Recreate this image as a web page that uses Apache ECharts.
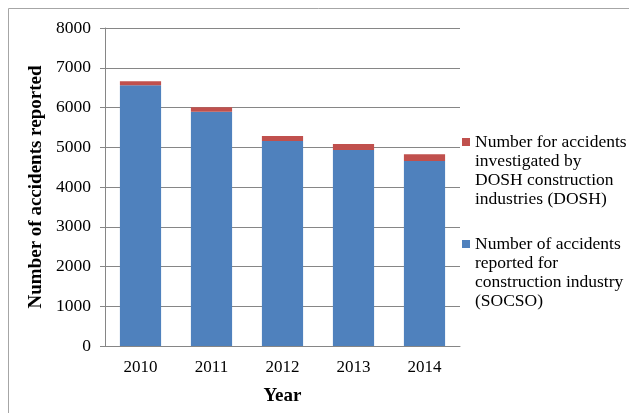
<!DOCTYPE html>
<html>
<head>
<meta charset="utf-8">
<script src="https://cdn.jsdelivr.net/npm/echarts@6/dist/echarts.min.js"></script>
<style>html,body{margin:0;padding:0;background:#fff}#c{width:629px;height:413px}</style>
</head>
<body>
<div id="c"></div>
<script>
const years = ['2010', '2011', '2012', '2013', '2014'];
const socso = [6560, 5890, 5160, 4930, 4655];
const dosh = [100, 115, 125, 150, 170];
const socsoName = 'Number of accidents\nreported for\nconstruction industry\n(SOCSO)';
const doshName = 'Number for accidents\ninvestigated by\nDOSH construction\nindustries (DOSH)';
const yTicks = { min: 0, max: 8000, interval: 1000 };

const font = 'Liberation Serif';
const chart = echarts.init(document.getElementById('c'));
// legend marker sits beside the first line of the 4-line label
const legendIcon = 'path://M0,0L8,0M0,5h8v8h-8zM0,76L8,76';
chart.setOption({
  animation: false,
  grid: { left: 105, right: 169, top: 28, bottom: 67 },
  graphic: [
    { type: 'line', shape: { x1: 8.5, y1: 8.5, x2: 8.5, y2: 413 }, style: { stroke: '#a6a6a6', lineWidth: 1 } },
    { type: 'line', shape: { x1: 8.5, y1: 8.5, x2: 629, y2: 8.5 }, style: { stroke: '#a6a6a6', lineWidth: 1 } }
  ],
  legend: {
    data: [doshName, socsoName], orient: 'vertical', left: 462, top: 133, padding: 0,
    itemWidth: 8, itemHeight: 76, itemGap: 26, icon: legendIcon,
    textStyle: { fontFamily: font, fontSize: 17.5, lineHeight: 19, color: '#000' }
  },
  xAxis: {
    type: 'category', data: years,
    name: 'Year', nameLocation: 'middle', nameGap: 41,
    nameTextStyle: { fontFamily: font, fontSize: 19, fontWeight: 'bold', color: '#000' },
    axisLine: { lineStyle: { color: '#868686' } },
    axisTick: { show: false },
    axisLabel: { fontFamily: font, fontSize: 17, color: '#000', margin: 13 }
  },
  yAxis: {
    type: 'value', min: yTicks.min, max: yTicks.max, interval: yTicks.interval,
    name: 'Number of accidents reported', nameLocation: 'middle', nameGap: 45,
    nameTextStyle: { fontFamily: font, fontSize: 19, fontWeight: 'bold', color: '#000' },
    axisLine: { show: true, lineStyle: { color: '#868686' } },
    axisTick: { show: true, length: 5, lineStyle: { color: '#868686' } },
    splitLine: { lineStyle: { color: '#868686' } },
    axisLabel: { fontFamily: font, fontSize: 17.5, color: '#000', margin: 14, formatter: v => String(v) }
  },
  series: [
    { name: socsoName, type: 'bar', stack: 's', data: socso, barCategoryGap: '42%', itemStyle: { color: '#4F81BD' } },
    { name: doshName, type: 'bar', stack: 's', data: dosh, itemStyle: { color: '#C0504D' } }
  ]
});
</script>
</body>
</html>
